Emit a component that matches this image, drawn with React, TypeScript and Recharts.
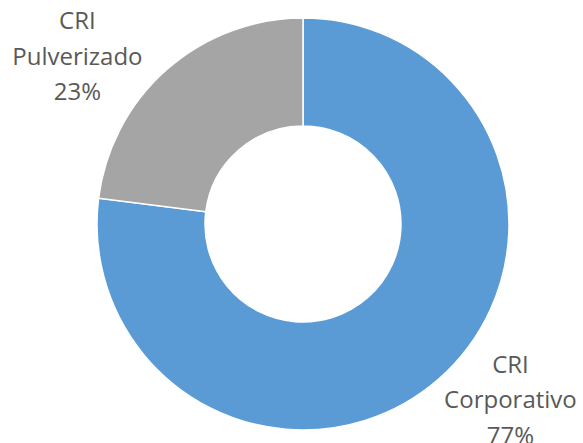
import { PieChart, Pie, Cell } from 'recharts';

const categories = ['CRI Corporativo', 'CRI Pulverizado'];
const shares = [77, 23];
const colors = ['#5B9BD5', '#A5A5A5'];

const data = categories.map((name, i) => ({ name, value: shares[i] }));

const RAD = Math.PI / 180;

// Excel "best fit" pushes labels a bit off the mid angle
const angleNudge = [8.3, 12];
const labelRadius = [272, 281];

const renderLabel = (props: any) => {
  const { cx, cy, midAngle, index, name, value } = props;
  const a = (midAngle + angleNudge[index]) * RAD;
  const r = labelRadius[index];
  const x = cx + r * Math.cos(a);
  const y = cy - r * Math.sin(a);
  const words = String(name).split(' ');
  const lines = [words[0], words.slice(1).join(' '), `${value}%`];
  const lh = 35.5;
  return (
    <text
      x={x}
      y={y}
      textAnchor="middle"
      fill="#595959"
      fontSize={24}
      fontFamily="'Open Sans', 'Noto Sans', sans-serif"
    >
      {lines.map((l, i) => (
        <tspan key={i} x={x} y={y + (i - 1) * lh} dy="0.35em">
          {l}
        </tspan>
      ))}
    </text>
  );
};

export default function App() {
  return (
    <div style={{ position: 'absolute', left: 0, top: 0, background: '#fff' }}>
      <PieChart width={583} height={443} margin={{ top: 0, right: 0, bottom: 0, left: 0 }}>
        <Pie
          data={data}
          dataKey="value"
          nameKey="name"
          cx={303}
          cy={224}
          innerRadius={98}
          outerRadius={206}
          startAngle={90}
          endAngle={-270}
          stroke="#fff"
          strokeWidth={1.5}
          label={renderLabel}
          labelLine={false}
          isAnimationActive={false}
        >
          {data.map((entry, i) => (
            <Cell key={`cell-${i}`} fill={colors[i]} />
          ))}
        </Pie>
      </PieChart>
    </div>
  );
}
